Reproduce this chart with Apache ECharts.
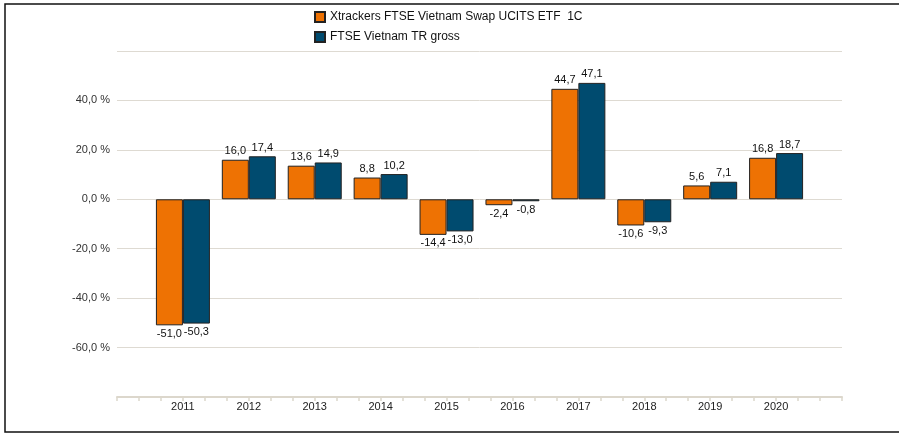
<!DOCTYPE html>
<html>
<head>
<meta charset="utf-8">
<script src="https://cdn.jsdelivr.net/npm/echarts@6/dist/echarts.min.js"></script>
<style>
  html, body { margin: 0; padding: 0; background: #fff; }
  #chart { width: 899px; height: 433px; }
</style>
</head>
<body>
<div id="chart"></div>
<script>
// empty slots at both ends: the axis runs one category past 2011 and 2020
const years = ['', '2011', '2012', '2013', '2014', '2015', '2016', '2017', '2018', '2019', '2020', ''];
const etfValues = [null, -51.0, 16.0, 13.6, 8.8, -14.4, -2.4, 44.7, -10.6, 5.6, 16.8, null];
const indexValues = [null, -50.3, 17.4, 14.9, 10.2, -13.0, -0.8, 47.1, -9.3, 7.1, 18.7, null];
const seriesNames = ['Xtrackers FTSE Vietnam Swap UCITS ETF  1C', 'FTSE Vietnam TR gross'];
const yTicksShown = [-60, -40, -20, 0, 20, 40];

const fmt = v => v.toFixed(1).replace('.', ',');

// put labels above positive bars and below negative ones
function toBarData(arr) {
  return arr.map(v => {
    if (v === null) return '-';
    return { value: v, label: { position: v < 0 ? 'bottom' : 'top' } };
  });
}

const chart = echarts.init(document.getElementById('chart'));

const barLabel = {
  show: true,
  distance: 3,
  color: '#111',
  fontSize: 11,
  fontFamily: 'Liberation Sans',
  formatter: p => fmt(p.value)
};

const option = {
  animation: false,
  textStyle: { fontFamily: 'Liberation Sans' },
  graphic: [{
    type: 'rect',
    shape: { x: 5, y: 4, width: 920, height: 428 },
    style: { fill: 'none', stroke: '#111', lineWidth: 1.5 },
    z: 100
  }],
  legend: {
    orient: 'vertical',
    left: 309,
    top: 6,
    itemWidth: 10,
    itemHeight: 10,
    itemGap: 8,
    icon: 'rect',
    textStyle: { fontSize: 12, color: '#111', fontFamily: 'Liberation Sans' },
    data: seriesNames
  },
  grid: { left: 117, right: 57, top: 51, bottom: 36 },
  xAxis: [
    {
      type: 'category',
      data: years,
      boundaryGap: false,
      position: 'bottom',
      axisLine: { show: false, onZero: false },
      axisTick: { show: false },
      axisLabel: { color: '#222', fontSize: 11, margin: 4, interval: 0 },
      splitLine: { show: false }
    },
    {
      // thin beige axis with a tick every third of a category
      type: 'value',
      min: 0,
      max: 33,
      interval: 1,
      position: 'bottom',
      axisLine: { show: true, onZero: false, lineStyle: { color: '#dcd7cc', width: 2 } },
      axisTick: { show: true, length: 4, lineStyle: { color: '#dcd7cc', width: 1.5 } },
      axisLabel: { show: false },
      splitLine: { show: false }
    }
  ],
  yAxis: {
    type: 'value',
    min: -80,
    max: 60,
    interval: 20,
    axisLine: { show: false },
    axisTick: { show: false },
    axisLabel: {
      color: '#333',
      fontSize: 11,
      margin: 7,
      formatter: v => yTicksShown.indexOf(v) >= 0 ? fmt(v) + ' %' : ''
    },
    splitLine: { lineStyle: { color: '#dedad2', width: 1 } }
  },
  series: [
    {
      name: seriesNames[0],
      type: 'bar',
      xAxisIndex: 0,
      barWidth: 27,
      barGap: 0,
      itemStyle: { color: '#ee7203', borderColor: '#222', borderWidth: 1 },
      label: barLabel,
      data: toBarData(etfValues)
    },
    {
      name: seriesNames[1],
      type: 'bar',
      xAxisIndex: 0,
      barWidth: 27,
      barGap: 0,
      itemStyle: { color: '#004b6f', borderColor: '#222', borderWidth: 1 },
      label: barLabel,
      data: toBarData(indexValues)
    }
  ]
};

option && chart.setOption(option);
</script>
</body>
</html>
